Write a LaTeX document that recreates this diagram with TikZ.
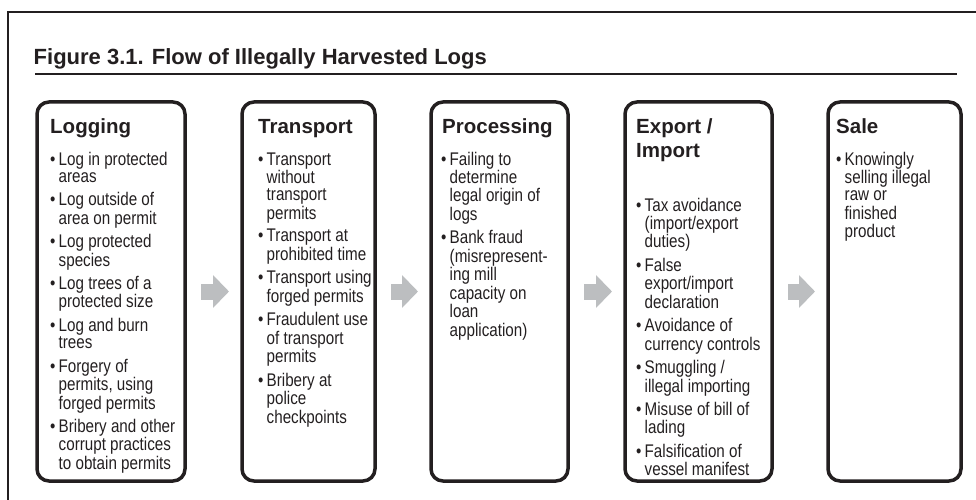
\documentclass[tikz,border=0pt]{standalone}
\usepackage{fontspec}
\setmainfont{Liberation Sans}
\newfontfamily\narrowfont{Liberation Sans}[FakeStretch=0.83]
\usepackage{xcolor}
\usetikzlibrary{arrows.meta}

\definecolor{ink}{HTML}{231F20}
\definecolor{arrowgray}{HTML}{BCBEC0}
\newcommand{\bul}{\textbullet &}
\newcommand{\entrygap}{5pt}

\tikzset{
  stagebox/.style={draw=ink, line width=3.5pt, rounded corners=12pt, anchor=north west,
    minimum height=379pt, inner sep=0pt, outer sep=0pt},
  stagehead/.style={anchor=base west, inner sep=0pt, text=ink,
    font=\bfseries\fontsize{20.5}{24}\selectfont},
  stagelist/.style={anchor=base west, inner sep=0pt, text=ink,
    font=\narrowfont\fontsize{18.3}{17.3}\selectfont},
  flowarrow/.style={arrowgray, line width=16pt, -{Triangle[length=16pt,width=32pt]}}
}

\begin{document}
\begin{tikzpicture}[x=1pt, y=-1pt]
\useasboundingbox (0,0) rectangle (976,500);

% frame, title and rule
\draw[ink, line width=2pt] (8,500) -- (8,12) -- (976,12);
\node[anchor=base west, inner sep=0pt, text=ink, font=\bfseries\fontsize{22}{26}\selectfont]
  (title) at (33.5,65) {Figure 3.1. Flow of Illegally Harvested Logs};
\draw[ink, line width=2pt] (35,74) -- (957,74);

% the five stages
\foreach \n/\x/\w in {logging/37/148, transport/242/133, processing/431/137, export/625/147, sale/828/133} {
    \node[stagebox, minimum width=\w pt] (\n) at (\x,102) {};
}

% headings
\node[stagehead] (logging-head) at (50,133) {Logging};
\node[stagehead] (transport-head) at (258,133) {Transport};
\node[stagehead] (processing-head) at (442,133) {Processing};
\node[stagehead] (export-head) at (636,133) {\begin{tabular}[t]{@{}l@{}}Export /\\Import\end{tabular}};
\node[stagehead] (sale-head) at (836,133) {Sale};

% lists of offences
\node[stagelist] (logging-list) at (50,165) {\begin{tabular}[t]{@{}l@{\hspace{3.2pt}}l@{}}
\bul Log in protected\\ & areas\\[\entrygap]
\bul Log outside of\\ & area on permit\\[\entrygap]
\bul Log protected\\ & species\\[\entrygap]
\bul Log trees of a\\ & protected size\\[\entrygap]
\bul Log and burn\\ & trees\\[\entrygap]
\bul Forgery of\\ & permits, using\\ & forged permits\\[\entrygap]
\bul Bribery and other\\ & corrupt practices\\ & to obtain permits
\end{tabular}};

\node[stagelist] (transport-list) at (258,165) {\begin{tabular}[t]{@{}l@{\hspace{3.2pt}}l@{}}
\bul Transport\\ & without\\ & transport\\ & permits\\[\entrygap]
\bul Transport at\\ & prohibited time\\[\entrygap]
\bul Transport using\\ & forged permits\\[\entrygap]
\bul Fraudulent use\\ & of transport\\ & permits\\[\entrygap]
\bul Bribery at\\ & police\\ & checkpoints
\end{tabular}};

\node[stagelist] (processing-list) at (441,165) {\begin{tabular}[t]{@{}l@{\hspace{3.2pt}}l@{}}
\bul Failing to\\ & determine\\ & legal origin of\\ & logs\\[\entrygap]
\bul Bank fraud\\ & (misrepresent-\\ & ing mill\\ & capacity on\\ & loan\\ & application)
\end{tabular}};

\node[stagelist] (export-list) at (636,211) {\begin{tabular}[t]{@{}l@{\hspace{3.2pt}}l@{}}
\bul Tax avoidance\\ & (import/export\\ & duties)\\[\entrygap]
\bul False\\ & export/import\\ & declaration\\[\entrygap]
\bul Avoidance of\\ & currency controls\\[\entrygap]
\bul Smuggling /\\ & illegal importing\\[\entrygap]
\bul Misuse of bill of\\ & lading\\[\entrygap]
\bul Falsification of\\ & vessel manifest
\end{tabular}};

\node[stagelist] (sale-list) at (836,165) {\begin{tabular}[t]{@{}l@{\hspace{3.2pt}}l@{}}
\bul Knowingly\\ & selling illegal\\ & raw or\\ & finished\\ & product
\end{tabular}};

% grey arrows between stages
\foreach \a/\b in {logging/transport, transport/processing, processing/export, export/sale} {
    \draw[flowarrow] ([xshift=16pt]\a.east) -- ([xshift=-13pt]\b.west);
}

\end{tikzpicture}
\end{document}
